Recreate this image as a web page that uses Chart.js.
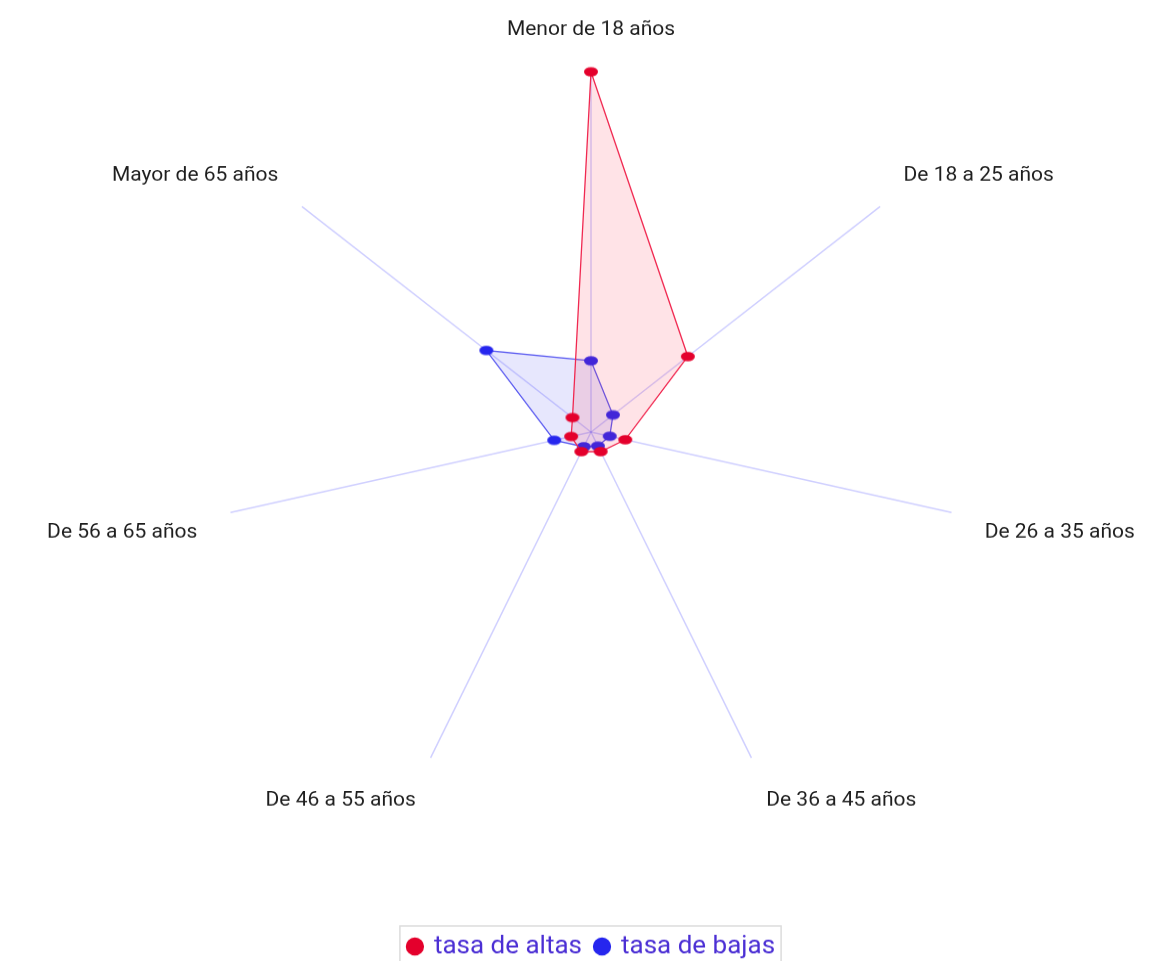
<!DOCTYPE html>
<html>
<head>
<meta charset="utf-8">
<script src="https://cdn.jsdelivr.net/npm/chart.js@4.4.0/dist/chart.umd.min.js"></script>
<style>
  html, body { margin: 0; padding: 0; background: #fff; overflow: hidden; width: 1175px; height: 961px; }
  #wrap { position: absolute; left: 0; top: 0; transform-origin: 0 0; transform: translateY(-1.2px) scaleY(0.978); }
  canvas { display: block; }
</style>
</head>
<body>
<div id="wrap"><canvas id="c" width="1175" height="992"></canvas></div>
<script>
// ---- data ----
const categories = ["Menor de 18 años", "De 18 a 25 años", "De 26 a 35 años", "De 36 a 45 años", "De 46 a 55 años", "De 56 a 65 años", "Mayor de 65 años"];
const seriesNames = ["tasa de altas", "tasa de bajas"];
const altas = [99.6, 33.5, 9.5, 6.0, 6.0, 5.5, 6.4];
const bajas = [19.7, 7.6, 5.2, 4.3, 4.5, 10.2, 36.2];
const scaleMin = 0;
const scaleMax = 100;

// ---- styles ----
const labelPad = [29, 30, 34, 34, 34, 34, 30];
const redPoint = 'rgb(228,0,44)';
const bluePoint = 'rgb(38,38,238)';

function ellipseImg(color) {
  const c = document.createElement('canvas');
  c.width = 16; c.height = 12;
  const g = c.getContext('2d');
  g.fillStyle = color;
  g.beginPath();
  g.ellipse(8, 6, 7, 4.8, 0, 0, Math.PI * 2);
  g.fill();
  return c;
}

const legendBorder = {
  id: 'legendBorder',
  afterDraw(chart) {
    const lg = chart.legend;
    if (!lg || !lg.legendHitBoxes || !lg.legendHitBoxes.length) return;
    const hb = lg.legendHitBoxes;
    const first = hb[0], last = hb[hb.length - 1];
    const x0 = first.left - 9;
    const x1 = last.left + last.width + 6;
    const y0 = first.top - 8;
    const ctx = chart.ctx;
    ctx.save();
    ctx.strokeStyle = '#dcdcdc';
    ctx.lineWidth = 1.5;
    ctx.strokeRect(x0, y0, x1 - x0, 80);
    ctx.restore();
  }
};

new Chart(document.getElementById('c'), {
  type: 'radar',
  data: {
    labels: categories,
    datasets: [
      {
        label: seriesNames[0],
        data: altas,
        borderColor: 'rgb(240,40,80)',
        backgroundColor: 'rgba(255,40,70,0.13)',
        borderWidth: 1.3,
        pointStyle: ellipseImg(redPoint),
        pointBackgroundColor: redPoint,
        pointBorderColor: redPoint,
        fill: true
      },
      {
        label: seriesNames[1],
        data: bajas,
        borderColor: 'rgb(90,90,240)',
        backgroundColor: 'rgba(60,60,240,0.12)',
        borderWidth: 1.3,
        pointStyle: ellipseImg(bluePoint),
        pointBackgroundColor: bluePoint,
        pointBorderColor: bluePoint,
        fill: true
      }
    ]
  },
  options: {
    responsive: false,
    animation: false,
    devicePixelRatio: 1,
    layout: { padding: { left: 9, right: 0, top: 0, bottom: 0 } },
    elements: { line: { tension: 0 } },
    scales: {
      r: {
        min: scaleMin,
        max: scaleMax,
        ticks: { display: false },
        grid: { display: false },
        angleLines: { display: true, color: 'rgba(110,110,255,0.33)', lineWidth: 1.5 },
        pointLabels: {
          display: true,
          color: '#1e1e1e',
          font: { family: 'Roboto', size: 21 },
          padding: (ctx) => labelPad[ctx.index]
        }
      }
    },
    plugins: {
      tooltip: { enabled: false },
      legend: {
        display: true,
        position: 'bottom',
        title: { display: true, text: '', font: { size: 10 }, padding: { top: 81, bottom: 0 } },
        labels: {
          usePointStyle: true,
          pointStyle: 'circle',
          boxWidth: 12,
          boxHeight: 12,
          padding: 14,
          color: '#4b2fd4',
          font: { family: 'Roboto', size: 26 }
        }
      }
    }
  },
  plugins: [legendBorder]
});
</script>
</body>
</html>
